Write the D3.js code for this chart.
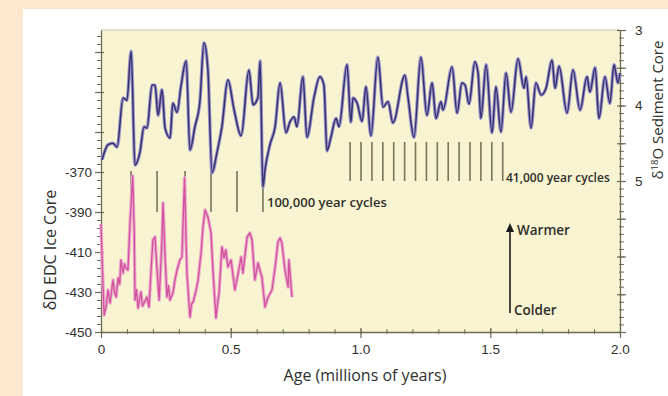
<!DOCTYPE html>
<html>
<head>
<meta charset="utf-8">
<script src="https://cdn.jsdelivr.net/npm/d3@7"></script>
<style>
  html, body { margin: 0; padding: 0; background: #fde7cf; }
  svg { display: block; font-family: "Open Sans", "Noto Sans", sans-serif; }
</style>
</head>
<body>
<div id="chart"></div>
<script>
// δ18O sediment core (blue), age in Myr
const blueAge = [0.004,0.027,0.046,0.062,0.085,0.100,0.116,0.131,0.150,0.166,0.177,0.197,0.208,0.220,0.235,0.247,0.266,0.277,0.293,0.308,0.328,0.343,0.362,0.381,0.397,0.412,0.428,0.447,0.466,0.489,0.513,0.540,0.570,0.586,0.605,0.613,0.624,0.632,0.651,0.671,0.690,0.713,0.728,0.744,0.755,0.778,0.794,0.821,0.844,0.859,0.871,0.886,0.906,0.917,0.948,0.963,0.971,0.987,1.006,1.021,1.040,1.067,1.087,1.106,1.125,1.171,1.183,1.206,1.233,1.256,1.276,1.291,1.310,1.318,1.353,1.372,1.391,1.403,1.418,1.441,1.453,1.464,1.484,1.507,1.522,1.541,1.561,1.580,1.607,1.630,1.638,1.657,1.676,1.696,1.715,1.738,1.750,1.765,1.796,1.819,1.846,1.873,1.884,1.904,1.919,1.942,1.961,1.977,1.992,2.000];
const blueValue = [4.72,4.52,4.50,4.55,3.90,3.93,3.28,4.79,4.62,4.28,4.30,3.73,3.73,4.13,3.79,4.30,4.43,3.97,4.09,3.75,3.41,4.59,4.28,3.95,3.17,3.53,4.89,4.62,4.28,3.66,4.06,4.40,3.53,3.99,3.89,3.41,5.08,4.85,4.52,4.28,3.70,4.36,4.22,4.15,4.28,3.62,4.42,3.89,3.62,3.73,4.60,4.42,4.17,4.28,3.46,4.22,3.90,3.97,4.21,3.75,4.40,3.36,4.02,3.95,4.23,3.60,3.89,4.42,3.36,4.13,3.70,4.17,3.95,4.06,3.49,4.10,3.70,3.73,3.98,3.42,3.57,4.17,3.46,4.36,3.75,4.35,3.57,4.09,3.38,3.77,3.62,4.30,3.70,3.86,3.77,3.40,3.77,3.48,4.10,3.53,4.06,3.62,3.82,3.50,4.17,3.62,3.97,3.46,3.70,3.57];

// δD EDC ice core (pink)
const pinkAge = [0.000,0.006,0.012,0.020,0.027,0.035,0.046,0.052,0.058,0.066,0.072,0.077,0.085,0.090,0.096,0.104,0.112,0.122,0.128,0.131,0.137,0.143,0.154,0.160,0.166,0.177,0.185,0.193,0.200,0.208,0.216,0.224,0.235,0.239,0.247,0.254,0.260,0.266,0.277,0.285,0.293,0.304,0.312,0.322,0.331,0.343,0.349,0.355,0.365,0.374,0.386,0.393,0.401,0.412,0.424,0.432,0.443,0.449,0.455,0.466,0.474,0.481,0.489,0.501,0.516,0.528,0.540,0.547,0.563,0.574,0.582,0.593,0.605,0.612,0.620,0.632,0.644,0.659,0.671,0.682,0.690,0.697,0.709,0.721,0.724,0.736];
const pinkValue = [-396,-420,-441.5,-437,-429,-435.5,-424,-430,-432.5,-423,-426,-414,-420.5,-416,-418,-419,-395,-372,-400,-434,-429,-438,-430,-437,-435.5,-432.5,-437.5,-419,-404,-402.5,-419,-434,-404,-385.5,-412.5,-432.5,-427,-434,-430.5,-424,-419,-414,-412.5,-373,-420.5,-442.5,-436,-435,-430,-424,-410,-397.5,-389,-392.5,-400.5,-420.5,-443,-436,-430.5,-407.5,-413,-409,-417.5,-414,-429,-421,-412.5,-420.5,-402.5,-400.5,-404,-424,-415.5,-419,-422.5,-437.5,-432.5,-429,-417.5,-405,-403,-405.5,-419,-427.5,-414,-432.5];

// cycle markers (Myr)
const cycles100k = [0.116,0.216,0.324,0.424,0.524,0.624];
const cycles41k = [0.960,1.002,1.044,1.086,1.128,1.170,1.212,1.254,1.296,1.338,1.380,1.422,1.464,1.506,1.548];

const xTickLabels = [0, 0.5, 1.0, 1.5, 2.0];
const leftTickLabels = [-450, -430, -410, -390, -370];
const rightTickLabels = [3, 4, 5];

const W = 668, H = 396;
const plot = { left: 101, right: 620, top: 30, bottom: 332 };
const axisColor = '#6e6c55';
const textColor = '#2f2f2b';

const svg = d3.select('#chart').append('svg')
  .attr('width', W).attr('height', H);

svg.append('rect').attr('width', W).attr('height', H).attr('fill', '#fde7cf');
svg.append('rect').attr('x', 23).attr('y', 9).attr('width', W - 23).attr('height', H - 9).attr('fill', '#ffffff');
svg.append('rect')
  .attr('x', plot.left).attr('y', plot.top)
  .attr('width', plot.right - plot.left).attr('height', plot.bottom - plot.top)
  .attr('fill', '#f8f3d1');
svg.append('line')
  .attr('x1', plot.left).attr('x2', plot.right).attr('y1', plot.top).attr('y2', plot.top)
  .attr('stroke', '#c9c6b4').attr('stroke-width', 1);

const x = d3.scaleLinear().domain([0, 2]).range([plot.left, plot.right]);
const yLeft = d3.scaleLinear().domain([-450, -299]).range([plot.bottom, plot.top]);
const yRight = d3.scaleLinear().domain([3, 7]).range([plot.top, plot.bottom]);

function styleAxis(g) {
  g.select('.domain').attr('stroke', axisColor).attr('stroke-width', 1.3);
  g.selectAll('.tick line').attr('stroke', axisColor).attr('stroke-width', 1.2);
  g.selectAll('.tick text').attr('fill', textColor).style('font-size', '13.5px').style('font-weight', '500');
}

// bottom axis
svg.append('g').attr('transform', `translate(0,${plot.bottom + 2})`)
  .call(d3.axisBottom(x).tickValues(d3.range(0, 2.001, 0.1)).tickSize(5).tickFormat(''))
  .call(g => g.select('.domain').remove())
  .call(g => g.selectAll('.tick line').attr('stroke', axisColor).attr('y1', -5).attr('y2', 0));
svg.append('g').attr('transform', `translate(0,${plot.bottom})`)
  .call(d3.axisBottom(x).tickValues(xTickLabels).tickSize(6).tickSizeOuter(0)
    .tickFormat(d => d === 0 ? '0' : d3.format('.1f')(d)))
  .call(styleAxis)
  .call(g => g.selectAll('.tick line').attr('y1', -4))
  .call(g => g.selectAll('.tick text').attr('y', 10).attr('dy', '0.9em'));

// left axis
svg.append('g').attr('transform', `translate(${plot.left},0)`)
  .call(d3.axisLeft(yLeft).tickValues(d3.range(-450, -299, 4)).tickSize(3).tickFormat(''))
  .call(g => g.select('.domain').remove())
  .call(g => g.selectAll('.tick line').attr('stroke', axisColor).attr('x2', -4).attr('x1', 1));
svg.append('g').attr('transform', `translate(${plot.left},0)`)
  .call(d3.axisLeft(yLeft).tickValues(d3.range(-450, -299, 20)).tickSize(6).tickSizeOuter(0)
    .tickFormat(d => leftTickLabels.includes(d) ? d : ''))
  .call(styleAxis)
  .call(g => g.selectAll('.tick line').attr('x1', 3))
  .call(g => g.selectAll('.tick text').attr('x', -9));

// right axis
svg.append('g').attr('transform', `translate(${plot.right},0)`)
  .call(d3.axisRight(yRight).tickValues(d3.range(3, 7.001, 0.1)).tickSize(3).tickFormat(''))
  .call(g => g.select('.domain').remove())
  .call(g => g.selectAll('.tick line').attr('stroke', axisColor).attr('x1', -1).attr('x2', 4));
svg.append('g').attr('transform', `translate(${plot.right},0)`)
  .call(d3.axisRight(yRight).tickValues(d3.range(3, 7.001, 0.5)).tickSize(6).tickSizeOuter(0)
    .tickFormat(d => rightTickLabels.includes(d) ? d : ''))
  .call(styleAxis)
  .call(g => g.selectAll('.tick line').attr('x1', -3))
  .call(g => g.selectAll('.tick text').attr('x', 15));

// cycle markers
svg.append('g').selectAll('line')
  .data(cycles100k).enter().append('line')
  .attr('x1', d => x(d)).attr('x2', d => x(d))
  .attr('y1', yLeft(-369.5)).attr('y2', yLeft(-390))
  .attr('stroke', '#77755a').attr('stroke-width', 1.6);
svg.append('g').selectAll('line')
  .data(cycles41k).enter().append('line')
  .attr('x1', d => x(d)).attr('x2', d => x(d))
  .attr('y1', 142).attr('y2', 181)
  .attr('stroke', '#77755a').attr('stroke-width', 1.6);

// series
const pinkLine = d3.line().x((d, i) => x(pinkAge[i])).y(d => yLeft(d));
svg.append('path').datum(pinkValue).attr('d', pinkLine)
  .attr('fill', 'none').attr('stroke', '#eba9cd').attr('stroke-width', 3.4).attr('stroke-linejoin', 'round');
svg.append('path').datum(pinkValue).attr('d', pinkLine)
  .attr('fill', 'none').attr('stroke', '#d2529c').attr('stroke-width', 1.3).attr('stroke-linejoin', 'round');

const blueLine = d3.line().curve(d3.curveMonotoneX)
  .x((d, i) => x(blueAge[i])).y(d => yRight(d));
svg.append('path').datum(blueValue).attr('d', blueLine)
  .attr('fill', 'none').attr('stroke', '#9b96c9').attr('stroke-width', 3.4).attr('stroke-linejoin', 'round');
svg.append('path').datum(blueValue).attr('d', blueLine)
  .attr('fill', 'none').attr('stroke', '#37306f').attr('stroke-width', 1.5).attr('stroke-linejoin', 'round');

// annotations
const note = (tx, ty, t, fs) => svg.append('text').attr('x', tx).attr('y', ty)
  .attr('fill', textColor).style('font-size', fs + 'px').style('font-weight', '600').text(t);
note(267, 207, '100,000 year cycles', 13);
note(506, 182, '41,000 year cycles', 12);
note(517, 235, 'Warmer', 13.5);
note(514, 315, 'Colder', 13.5);

svg.append('line').attr('x1', 510).attr('x2', 510).attr('y1', 313).attr('y2', 230)
  .attr('stroke', '#1a1a1a').attr('stroke-width', 1.6);
svg.append('path').attr('d', 'M510,223 L506,232 L514,232 Z').attr('fill', '#1a1a1a');

// axis titles
svg.append('text').attr('x', 365).attr('y', 381)
  .attr('text-anchor', 'middle').attr('fill', textColor).style('font-size', '16px')
  .text('Age (millions of years)');
svg.append('text').attr('transform', 'translate(56,250) rotate(-90)')
  .attr('text-anchor', 'middle').attr('fill', textColor).style('font-size', '16px')
  .text('δD EDC Ice Core');
const rt = svg.append('text').attr('transform', 'translate(663,110) rotate(-90)')
  .attr('text-anchor', 'middle').attr('fill', textColor).style('font-size', '15px');
rt.append('tspan').text('δ');
rt.append('tspan').attr('dy', -5).style('font-size', '9.5px').text('18');
rt.append('tspan').attr('dy', 5).text('O Sediment Core');
</script>
</body>
</html>
